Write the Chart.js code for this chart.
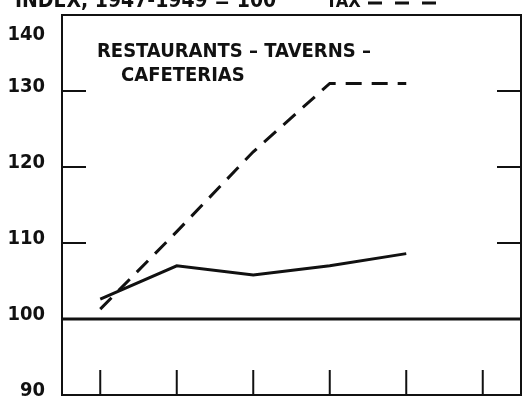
<!DOCTYPE html>
<html>
<head>
<meta charset="utf-8">
<script src="https://cdn.jsdelivr.net/npm/chart.js@4.4.1/dist/chart.umd.min.js"></script>
<style>
  html, body { margin: 0; padding: 0; background: #fff; }
  #wrap { width: 522px; height: 402px; position: relative; }
</style>
</head>
<body>
<div id="wrap"><canvas id="c"></canvas></div>
<script>
// données
const periods = ['1', '2', '3', '4', '5', '6'];
const restaurants = [102.6, 107.0, 105.8, 107.0, 108.6, null];
const tax = [101.3, 111.5, 122.0, 131.0, 131.0, null];
const yTicks = [90, 100, 110, 120, 130, 140];
const innerTicks = [110, 120, 130];

const headerText = 'INDEX, 1947-1949 = 100';
const taxText = 'TAX';
const titleLines = ['RESTAURANTS \u2013 TAVERNS \u2013', 'CAFETERIAS'];

const FONT = '"DejaVu Sans Condensed", "Liberation Sans Narrow", sans-serif';
const INK = '#111';

// cadre, ligne 100, petites graduations et textes
const framePlugin = {
  id: 'frame',
  afterDraw(chart) {
    const { ctx, chartArea: a } = chart;
    const x = chart.scales.x, y = chart.scales.y;
    ctx.save();
    ctx.strokeStyle = INK;
    ctx.lineCap = 'butt';

    ctx.lineWidth = 2;
    ctx.strokeRect(a.left, a.top, a.right - a.left, a.bottom - a.top);

    // ligne 100
    ctx.lineWidth = 3;
    const y100 = y.getPixelForValue(100);
    ctx.beginPath();
    ctx.moveTo(a.left, y100);
    ctx.lineTo(a.right, y100);
    ctx.stroke();

    // graduations intérieures
    ctx.lineWidth = 2;
    innerTicks.forEach(v => {
      const py = y.getPixelForValue(v);
      ctx.beginPath();
      ctx.moveTo(a.left, py); ctx.lineTo(a.left + 24, py);
      ctx.moveTo(a.right, py); ctx.lineTo(a.right - 24, py);
      ctx.stroke();
    });
    periods.forEach((p, i) => {
      const px = x.getPixelForValue(i);
      ctx.beginPath();
      ctx.moveTo(px, a.bottom); ctx.lineTo(px, a.bottom - 25);
      ctx.stroke();
    });

    // textes
    ctx.fillStyle = INK;
    ctx.textBaseline = 'alphabetic';
    ctx.font = 'bold 21px ' + FONT;
    ctx.fillText(headerText, 15, 7);
    ctx.font = 'bold 18px ' + FONT;
    ctx.fillText(taxText, 326, 7);
    ctx.lineWidth = 3;
    ctx.beginPath();
    ctx.setLineDash([14, 13]);
    ctx.moveTo(368, 3); ctx.lineTo(436, 3);
    ctx.stroke();
    ctx.setLineDash([]);

    ctx.font = 'bold 20px ' + FONT;
    ctx.fillText(titleLines[0], a.left + 35, a.top + 42);
    ctx.fillText(titleLines[1], a.left + 59, a.top + 66);
    ctx.restore();
  }
};

new Chart(document.getElementById('c'), {
  type: 'line',
  data: {
    labels: periods,
    datasets: [{
      label: 'Restaurants',
      data: restaurants,
      borderColor: INK,
      borderWidth: 3,
      pointRadius: 0,
      tension: 0
    }, {
      label: 'Tax',
      data: tax,
      borderColor: INK,
      borderWidth: 3,
      borderDash: [16, 10],
      pointRadius: 0,
      tension: 0
    }]
  },
  options: {
    responsive: true,
    maintainAspectRatio: false,
    animation: false,
    layout: { padding: { top: 15, bottom: 7, right: 1, left: 0 } },
    plugins: { legend: { display: false }, tooltip: { enabled: false } },
    scales: {
      x: {
        display: false,
        offset: true
      },
      y: {
        min: 90,
        max: 140,
        afterFit(scale) {
          scale.width = 62;
          scale.paddingTop = 0;
          scale.paddingBottom = 0;
        },
        afterBuildTicks(scale) { scale.ticks = yTicks.map(v => ({ value: v })); },
        grid: { display: false, drawTicks: false },
        border: { display: false },
        ticks: {
          autoSkip: false,
          padding: 17,
          labelOffset: -4,
          color: INK,
          font: { family: FONT, size: 20, weight: 'bold' },
          callback: v => v === 140 ? ['', '', String(v)] : String(v)
        }
      }
    }
  },
  plugins: [framePlugin]
});
</script>
</body>
</html>
